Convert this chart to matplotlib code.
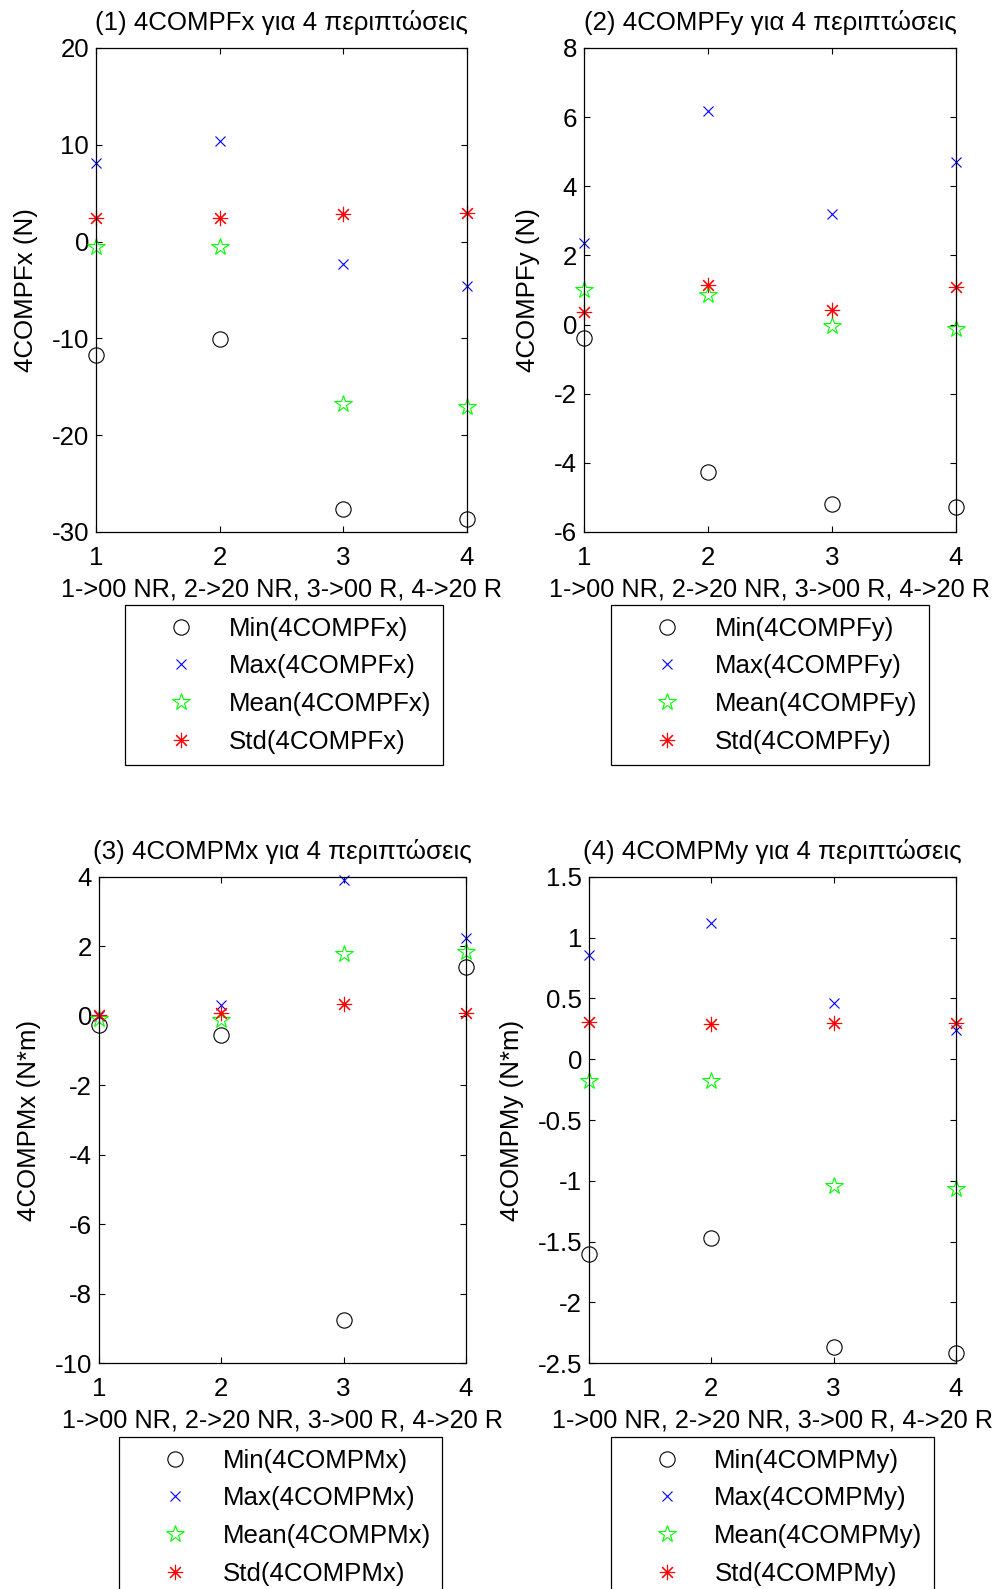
# -*- coding: utf-8 -*-
# 4 subplots: Min / Max / Mean / Std for 4COMP forces and moments
import numpy as np
import matplotlib
matplotlib.use('Agg')
from matplotlib import pyplot as plt

plt.rcParams['font.family'] = ['Liberation Sans', 'DejaVu Sans']
plt.rcParams['axes.unicode_minus'] = False

cases = [1, 2, 3, 4]
xlabel_text = "1->00 NR, 2->20 NR, 3->00 R, 4->20 R"

# (1) Fx
fx_min = [-11.7, -10.1, -27.6, -28.7]
fx_max = [8.1, 10.4, -2.3, -4.6]
fx_mean = [-0.6, -0.6, -16.8, -17.1]
fx_std = [2.4, 2.4, 2.8, 3.0]

# (2) Fy
fy_min = [-0.38, -4.27, -5.18, -5.28]
fy_max = [2.35, 6.18, 3.2, 4.7]
fy_mean = [1.0, 0.85, -0.05, -0.12]
fy_std = [0.35, 1.15, 0.42, 1.1]

# (3) Mx
mx_min = [-0.25, -0.55, -8.75, 1.4]
mx_max = [0.0, 0.32, 3.92, 2.25]
mx_mean = [-0.08, -0.12, 1.78, 1.85]
mx_std = [0.02, 0.08, 0.33, 0.07]

# (4) My
my_min = [-1.6, -1.47, -2.37, -2.42]
my_max = [0.86, 1.12, 0.46, 0.24]
my_mean = [-0.18, -0.18, -1.04, -1.07]
my_std = [0.31, 0.29, 0.30, 0.30]

panels = [
    ("(1) 4COMPFx για 4 περιπτώσεις", "4COMPFx (N)", "4COMPFx",
     fx_min, fx_max, fx_mean, fx_std, (-30, 20), [-30, -20, -10, 0, 10, 20]),
    ("(2) 4COMPFy για 4 περιπτώσεις", "4COMPFy (N)", "4COMPFy",
     fy_min, fy_max, fy_mean, fy_std, (-6, 8), [-6, -4, -2, 0, 2, 4, 6, 8]),
    ("(3) 4COMPMx για 4 περιπτώσεις", "4COMPMx (N*m)", "4COMPMx",
     mx_min, mx_max, mx_mean, mx_std, (-10, 4), [-10, -8, -6, -4, -2, 0, 2, 4]),
    ("(4) 4COMPMy για 4 περιπτώσεις", "4COMPMy (N*m)", "4COMPMy",
     my_min, my_max, my_mean, my_std, (-2.5, 1.5),
     [-2.5, -2, -1.5, -1, -0.5, 0, 0.5, 1, 1.5]),
]

# axes rectangles [left, bottom, width, height] and legend anchors (figure fraction)
rects = [[0.0965, 0.6652, 0.3729, 0.3046],
         [0.5869, 0.6652, 0.3739, 0.3046],
         [0.0995, 0.1422, 0.3688, 0.3059],
         [0.5920, 0.1422, 0.3688, 0.3059]]
leg_anchor = [(0.2854, 0.6193), (0.7740, 0.6193),
              (0.2821, 0.0957), (0.7765, 0.0957)]

fs = 18.6
fig = plt.figure(figsize=(9.95, 15.89), dpi=100)

for i, (title, ylab, name, vmin, vmax, vmean, vstd, ylim, yt) in enumerate(panels):
    ax = fig.add_axes(rects[i])
    ax.plot(cases, vmin, 'o', ms=11, mfc='none', mec='black', mew=0.8,
            clip_on=False, label='Min(%s)' % name)
    ax.plot(cases, vmax, 'x', ms=6.5, color='blue', mew=0.8,
            clip_on=False, label='Max(%s)' % name)
    ax.plot(cases, vmean, '*', ms=13, mfc='none', mec='#00ff00', mew=0.8,
            clip_on=False, label='Mean(%s)' % name)
    ax.plot(cases, vstd, marker=(8, 2, 0), ls='none', ms=11, color='red',
            mew=0.8, clip_on=False, label='Std(%s)' % name)

    ax.set_xlim(1, 4)
    ax.set_ylim(ylim)
    ax.set_xticks(cases)
    ax.set_yticks(yt)
    ax.set_yticklabels(['%g' % v for v in yt])
    ax.tick_params(axis='both', which='both', direction='in', top=True,
                   right=True, length=4, width=0.8, labelsize=fs, colors='black')
    ax.tick_params(axis='x', pad=10)
    ax.tick_params(axis='y', pad=5)
    for s in ax.spines.values():
        s.set_linewidth(0.9)

    ax.set_title(title, fontsize=fs, pad=13)
    ax.set_xlabel(xlabel_text, fontsize=18.2, labelpad=5.5)
    ax.set_ylabel(ylab, fontsize=fs, labelpad=10)

    leg = ax.legend(loc='upper center', bbox_to_anchor=leg_anchor[i],
                    bbox_transform=fig.transFigure, fontsize=fs,
                    fancybox=False, framealpha=1, edgecolor='black',
                    borderpad=0.45, borderaxespad=0, handlelength=3.42,
                    handletextpad=0.13, labelspacing=0.53, numpoints=1)
    leg.get_frame().set_linewidth(0.9)

fig.savefig('out.png', dpi=100)
